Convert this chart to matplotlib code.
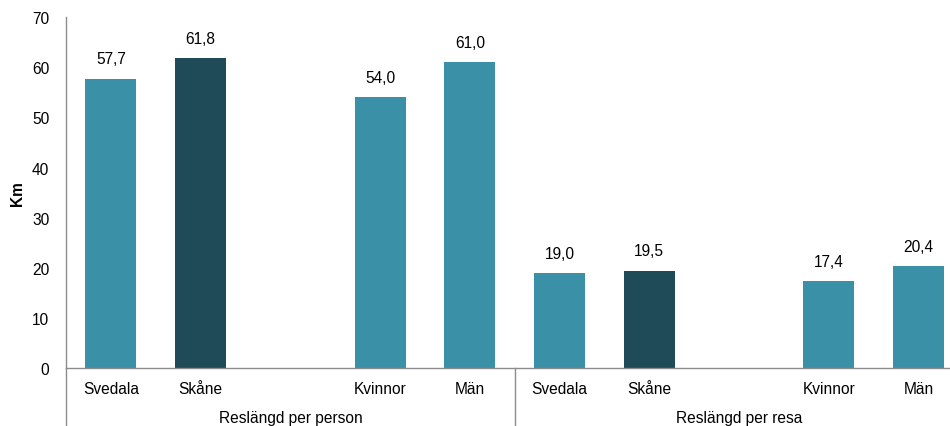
import matplotlib
matplotlib.use('Agg')
import matplotlib.pyplot as plt
import matplotlib.transforms as mtransforms

plt.rcParams['font.family'] = ['Liberation Sans', 'DejaVu Sans']

groups = ['Reslängd per person', 'Reslängd per resa']
categories = ['Svedala', 'Skåne', '', 'Kvinnor', 'Män']
per_person = [57.7, 61.8, None, 54.0, 61.0]
per_resa = [19.0, 19.5, None, 17.4, 20.4]
highlight = 'Skåne'

teal = '#3A91A7'
dark = '#1F4A57'
grey = '#8C8C8C'
fs = 11.2

fig = plt.figure(figsize=(9.5, 4.27), dpi=100)
ax = fig.add_axes([0.0695, 0.1347, 0.9305, 0.8231])

n = len(categories)
xticks, xlabels = [], []
for g, values in enumerate([per_person, per_resa]):
    for i, (cat, v) in enumerate(zip(categories, values)):
        x = g * n + i
        if v is None:
            continue
        ax.bar(x, v, width=0.57, color=dark if cat == highlight else teal, zorder=2)
        ax.text(x, v + 2.5, f'{v:.1f}'.replace('.', ','), ha='center', va='bottom', fontsize=fs)
        xticks.append(x)
        xlabels.append(cat)

ax.set_xticks(xticks)
ax.set_xticklabels(xlabels, fontsize=fs)
ax.tick_params(axis='x', length=0, pad=9)
ax.tick_params(axis='y', length=0, pad=12, labelsize=fs)
ax.set_ylim(0, 70)
ax.set_yticks(range(0, 71, 10))
ax.set_xlim(-0.5, 2 * n - 0.5 - 0.15)

for side in ['top', 'right']:
    ax.spines[side].set_visible(False)
for side in ['left', 'bottom']:
    ax.spines[side].set_color(grey)
    ax.spines[side].set_linewidth(1.0)

ax.set_ylabel('Km', fontweight='bold', fontsize=fs)
ax.yaxis.set_label_coords(-0.046, 0.5)

trans = mtransforms.blended_transform_factory(ax.transData, ax.transAxes)
for xs in [-0.5, n - 0.5]:
    ax.plot([xs, xs], [0, -0.2], color=grey, lw=1.0, transform=trans, clip_on=False)
for g, name in enumerate(groups):
    ax.text(g * n + (n - 1) / 2, -0.14, name, ha='center', va='center', fontsize=fs, transform=trans)

fig.savefig('out.png', dpi=100)
